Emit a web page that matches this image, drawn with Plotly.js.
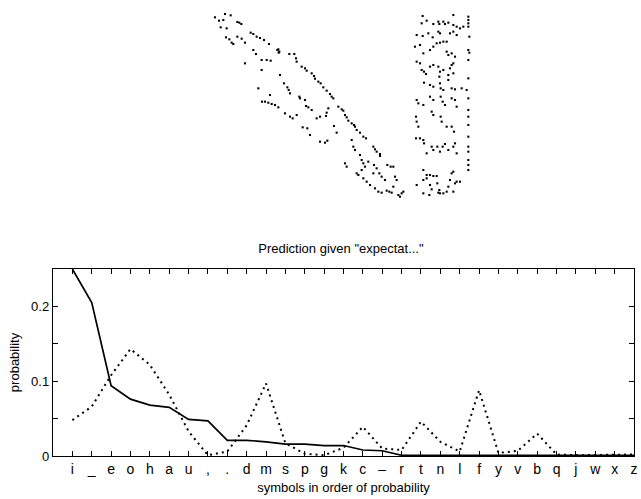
<!DOCTYPE html>
<html>
<head>
<meta charset="utf-8">
<script src="https://cdn.plot.ly/plotly-3.0.1.min.js"></script>
<style>html,body{margin:0;padding:0;background:#fff;}#chart{width:641px;height:499px;}</style>
</head>
<body>
<div id="chart"></div>
<script>
// Symbols in order of probability
var symbols = ["i","_","e","o","h","a","u",",",".","d","m","s","p","g","k","c","\u2013","r","t","n","l","f","y","v","b","q","j","w","x","z"];
// Solid line: predicted probability
var solidProb = [0.250,0.205,0.094,0.076,0.068,0.065,0.049,0.047,0.021,0.021,0.019,0.016,0.016,0.014,0.014,0.008,0.007,0.001,0.001,0.001,0.001,0.001,0.001,0.001,0.001,0.001,0.001,0.001,0.001,0.001];
// Dotted line: second distribution
var dottedProb = [0.048,0.066,0.108,0.143,0.122,0.082,0.033,0.001,0.006,0.041,0.097,0.017,0.003,0.001,0.011,0.039,0.010,0.008,0.046,0.019,0.006,0.088,0.004,0.007,0.030,0.002,0.001,0.001,0.002,0.002];
// y-axis tick values and labels
var yTickVals = [0,0.05,0.1,0.15,0.2];
var yTickText = ['0','','0.1','','0.2'];
// axis ranges
var xRange = [-1, 29];
var yRange = [0, 0.25];
// Top panel: dot pattern (picture coordinates)
var dotX = [45,75,92,57,70,62,80,112,124,118,152,160,170,180,192,207,235,238,268,283,288,290,78,88,95,100,112,125,135,160,168,185,200,212,232,236,135,185,240,252,262,266,270,175,210,186,195,205,215,225,235,255,270,278,290,298,300,315,318,325,335,350,360,378,380,385,402,410,308,322,330,360,375,382,305,315,320,335,342,345,355,362,370,380,390,395,400,415,425,430,435,440,445,455,462,465,470,480,490,498,455,460,465,480,485,490,495,505,520,525,530,540,522,530,538,545,555,540,435,440,470,475,490,500,510,525,535,545,560,568,575,580,585,590,595,600,605,610,562,572,580,485,520,
668,680,665,700,715,718,730,735,745,760,760,770,780,790,805,805,805,805,650,668,685,698,715,720,730,740,750,760,720,770,808,645,660,670,690,700,710,740,745,755,760,765,805,808,805,650,660,665,672,678,690,700,715,720,730,745,750,755,760,672,690,700,718,720,722,730,745,755,765,785,800,805,650,655,670,690,700,722,728,735,755,765,770,805,805,648,650,655,695,700,722,725,740,755,762,805,805,648,660,670,672,680,695,700,712,720,728,735,745,760,765,770,805,805,805,670,680,690,700,710,670,680,690,695,712,718,720,740,745,750,755,760,765,770,780,805,805,805,650,670,688,715,730,760];
var dotY = [52,42,46,62,60,82,85,66,72,68,98,102,110,114,120,132,148,155,162,162,175,185,112,118,128,132,110,116,128,150,162,180,180,182,150,158,190,210,225,250,262,270,280,265,285,305,305,308,312,315,322,340,350,355,345,290,295,300,318,322,330,355,350,348,338,325,378,398,382,385,405,425,428,422,200,205,212,220,228,236,245,250,262,272,282,290,295,320,328,332,345,352,362,370,375,380,390,398,410,415,420,440,450,465,480,490,500,485,440,448,455,468,495,505,520,530,540,462,490,500,520,525,535,545,555,565,575,578,572,575,578,560,530,540,585,590,580,575,495,500,500,510,520,
48,62,70,72,65,72,65,72,68,45,75,80,85,80,50,60,70,80,105,108,100,112,95,100,125,125,100,95,128,105,110,140,135,160,150,140,130,155,165,160,190,170,150,158,180,185,190,210,215,222,200,195,200,215,210,225,205,195,220,248,255,260,230,250,265,270,240,265,268,265,270,235,300,310,315,290,300,290,305,315,295,300,320,295,330,350,365,380,335,345,350,365,380,380,395,350,375,415,415,420,430,460,440,450,440,455,440,432,450,440,430,460,410,440,455,510,525,525,528,528,540,535,555,568,550,570,580,575,560,540,520,515,550,545,545,480,495,510,555,580,585,578,580,575];

var idx = symbols.map(function(s,i){return i;});

var traces = [
  {x: idx, y: solidProb, type:'scatter', mode:'lines', line:{color:'#000', width:1.7}, xaxis:'x', yaxis:'y', hoverinfo:'skip'},
  {x: idx, y: dottedProb, type:'scatter', mode:'lines', line:{color:'#000', width:2, dash:'2px,4px'}, xaxis:'x', yaxis:'y', hoverinfo:'skip'},
  {x: dotX, y: dotY, type:'scatter', mode:'markers', marker:{color:'#000', size:2.1, symbol:'square'}, xaxis:'x2', yaxis:'y2', hoverinfo:'skip'}
];

var W = 641, H = 499;
var font = "'Liberation Sans', Arial, Helvetica, sans-serif";
var layout = {
  width: W, height: H,
  margin: {l:0, r:0, t:0, b:0},
  paper_bgcolor:'#fff', plot_bgcolor:'#fff',
  showlegend:false,
  font:{family:font, color:'#000', size:13},
  title:{text:'Prediction given "expectat..."', font:{family:font, size:13, color:'#000'}, x:(53+634)/2/W - 0.004, xanchor:'center', y:1-248/H, yanchor:'middle'},
  xaxis:{
    domain:[53/W, 634/W], range:xRange,
    tickmode:'array', tickvals: idx, ticktext: symbols,
    ticks:'inside', ticklen:5, tickcolor:'#000', tickwidth:1,
    showline:true, linecolor:'#000', linewidth:1.2, mirror:'ticks',
    showgrid:false, zeroline:false,
    tickfont:{family:font, size:14, color:'#000'},
    title:{text:'symbols in order of probability', font:{family:font, size:13, color:'#000'}, standoff:6},
    anchor:'y', automargin:false
  },
  yaxis:{
    domain:[1-456/H, 1-269/H], range:yRange,
    tickmode:'array', tickvals:yTickVals, ticktext:yTickText,
    ticks:'inside', ticklen:5, tickcolor:'#000', tickwidth:1,
    showline:true, linecolor:'#000', linewidth:1.2, mirror:'ticks',
    showgrid:false, zeroline:false,
    tickfont:{family:font, size:13, color:'#000'},
    title:{text:'probability', font:{family:font, size:13, color:'#000'}, standoff:8},
    anchor:'x', automargin:false
  },
  xaxis2:{domain:[200/W, 480/W], range:[0, 840], visible:false, anchor:'y2'},
  yaxis2:{domain:[1-210/H, 1], range:[630, 0], visible:false, anchor:'x2'}
};

Plotly.newPlot('chart', traces, layout, {displayModeBar:false, staticPlot:true});
</script>
</body>
</html>
